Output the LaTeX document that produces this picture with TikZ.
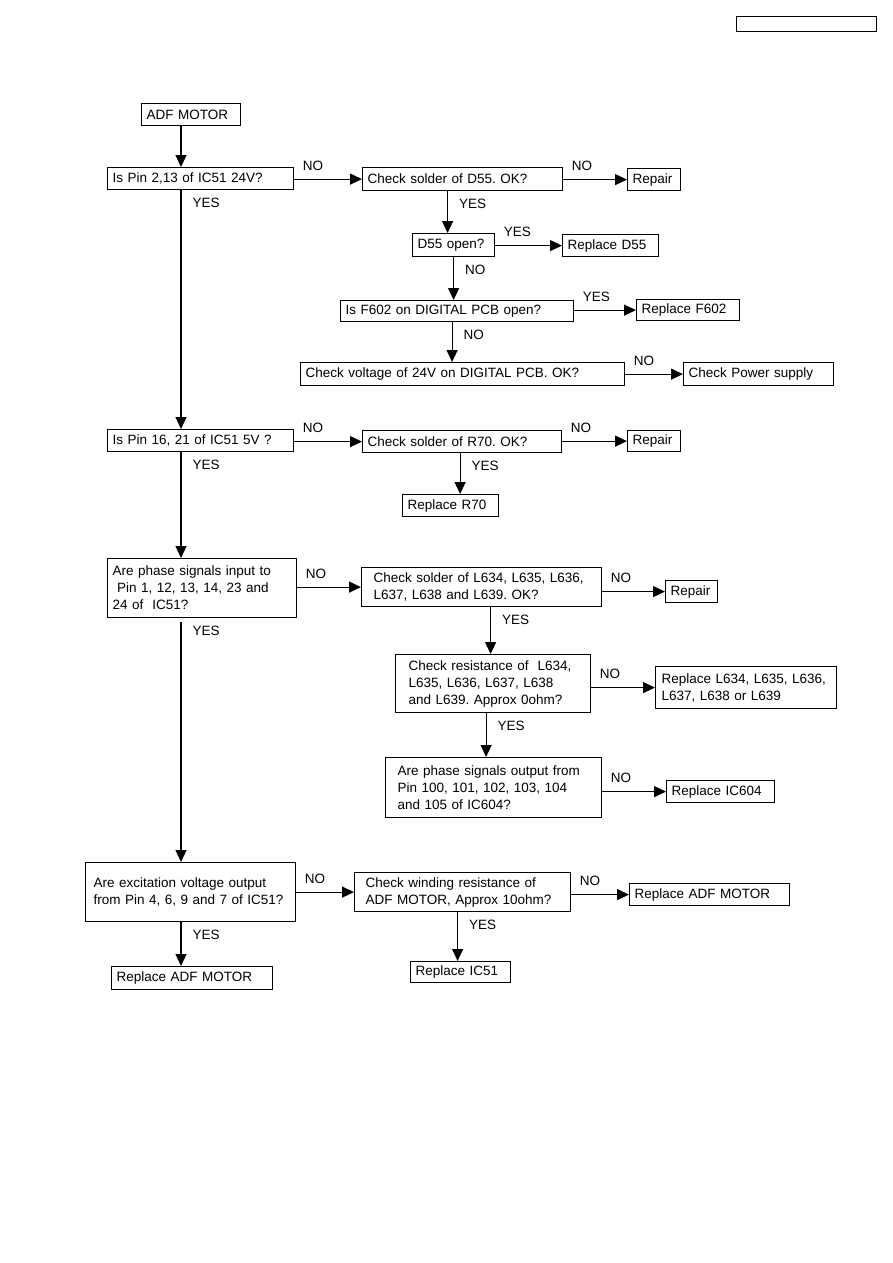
\documentclass[tikz,border=0pt]{standalone}
\usepackage{fontspec}
\setmainfont{Liberation Sans}
\usetikzlibrary{arrows.meta}
\newcommand{\flowfont}{\fontsize{13.5}{17}\selectfont\frenchspacing}
\tikzset{
    box/.style={
        draw,
        line width=1.2pt,
        anchor=north west,
        align=left,
        inner xsep=5pt,
        inner ysep=2pt,
        font=\flowfont
    },
    arrow/.style={
        -{Triangle[length=12pt,width=11pt]},
        line width=1.2pt
    },
    hlbl/.style={font=\flowfont, inner sep=1pt, anchor=south west, pos=0, xshift=7pt, yshift=7pt},
    vlbl/.style={font=\flowfont, inner sep=1pt, anchor=north west, pos=0, xshift=10pt, yshift=-6pt}
}
\begin{document}
\begin{tikzpicture}[x=1pt, y=-1pt]
\useasboundingbox (0,0) rectangle (893,1263);

\node[box, text width=130, minimum height=15] (hdr) at (736,16) {};

\coordinate (spine) at (181,0);

\node[box, text width=89, minimum height=22] (adf) at (141,103) {ADF MOTOR};
\node[box, text width=176, minimum height=22] (q1) at (107,167) {Is Pin 2,13 of IC51 24V?};
\node[box, text width=190, minimum height=23] (c1) at (362,167) {Check solder of D55. OK?};
\node[box, text width=43, minimum height=22] (rep1) at (627,168) {Repair};
\node[box, text width=72, minimum height=23] (d55) at (412,233) {D55 open?};
\node[box, text width=86, minimum height=22] (rd55) at (562,234) {Replace D55};
\node[box, text width=223, minimum height=21] (f602) at (340,300) {Is F602 on DIGITAL PCB open?};
\node[box, text width=93, minimum height=21] (rf602) at (636,299) {Replace F602};
\node[box, text width=314, minimum height=23] (cv) at (300,362) {Check voltage of 24V on DIGITAL PCB. OK?};
\node[box, text width=140, minimum height=23] (cps) at (683,362) {Check Power supply};

\node[box, text width=176, minimum height=22] (q2) at (107,429) {Is Pin 16, 21 of IC51 5V ?};
\node[box, text width=189, minimum height=22] (c2) at (362,430) {Check solder of R70. OK?};
\node[box, text width=43, minimum height=21] (rep2) at (627,430) {Repair};
\node[box, text width=86, minimum height=22] (r70) at (402,494) {Replace R70};

\node[box, text width=179, minimum height=59] (q3) at (107,558) {Are phase signals input to\\\ Pin 1, 12, 13, 14, 23 and\\24 of~ IC51?};
\node[box, inner xsep=12pt, text width=216, minimum height=39] (c3) at (361,567) {Check solder of L634, L635, L636,\\L637, L638 and L639. OK?};
\node[box, text width=42, minimum height=22] (rep3) at (665,580) {Repair};
\node[box, inner xsep=13pt, text width=169, minimum height=58] (c4) at (395,654) {Check resistance of~ L634,\\L635, L636, L637, L638\\and L639. Approx 0ohm?};
\node[box, inner xsep=6pt, text width=169, minimum height=42] (rl) at (655,666) {Replace L634, L635, L636,\\L637, L638 or L639};
\node[box, inner xsep=12pt, text width=192, minimum height=60] (c5) at (385,757) {Are phase signals output from\\Pin 100, 101, 102, 103, 104\\and 105 of IC604?};
\node[box, text width=98, minimum height=22] (ic604) at (666,780) {Replace IC604};

\node[box, inner xsep=8pt, text width=194, minimum height=59] (q4) at (85,862) {Are excitation voltage output\\from Pin 4, 6, 9 and 7 of IC51?};
\node[box, inner xsep=11pt, text width=194, minimum height=39] (c6) at (354,872) {Check winding resistance of\\ADF MOTOR, Approx 10ohm?};
\node[box, text width=150, minimum height=22] (radf1) at (629,883) {Replace ADF MOTOR};
\node[box, text width=151, minimum height=23] (radf2) at (111,966) {Replace ADF MOTOR};
\node[box, text width=90, minimum height=21] (ic51) at (410,961) {Replace IC51};

\draw[arrow] (adf.south -| spine) -- (q1.north -| spine);
\draw[arrow] (q1.east |- c1) -- node[hlbl] {NO} (c1);
\draw[arrow] (c1.east |- rep1) -- node[hlbl] {NO} (rep1);
\draw[arrow] ([xshift=-15pt]c1.south) -- node[vlbl] {YES} ([xshift=-15pt]c1.south |- d55.north);
\draw[arrow] (d55.east |- rd55) -- node[hlbl] {YES} (rd55);
\draw[arrow] (d55.south) -- node[vlbl] {NO} (d55.south |- f602.north);
\draw[arrow] (f602.east |- rf602) -- node[hlbl] {YES} (rf602);
\draw[arrow] ([xshift=-5pt]f602.south) -- node[vlbl] {NO} ([xshift=-5pt]f602.south |- cv.north);
\draw[arrow] (cv.east |- cps) -- node[hlbl] {NO} (cps);

\draw[arrow] (q1.south -| spine) -- node[vlbl] {YES} (q2.north -| spine);
\draw[arrow] (q2.east |- c2) -- node[hlbl] {NO} (c2);
\draw[arrow] (c2.east |- rep2) -- node[hlbl] {NO} (rep2);
\draw[arrow] ([xshift=-2pt]c2.south) -- node[vlbl] {YES} ([xshift=-2pt]c2.south |- r70.north);

\draw[arrow] (q2.south -| spine) -- node[vlbl] {YES} (q3.north -| spine);
\draw[arrow] (q3.east |- c3) -- node[hlbl] {NO} (c3);
\draw[arrow] (c3.east |- rep3) -- node[hlbl] {NO} (rep3);
\draw[arrow] ([xshift=9pt]c3.south) -- node[vlbl] {YES} ([xshift=9pt]c3.south |- c4.north);
\draw[arrow] (c4.east |- rl) -- node[hlbl] {NO} (rl);
\draw[arrow] ([xshift=-7pt]c4.south) -- node[vlbl] {YES} ([xshift=-7pt]c4.south |- c5.north);
\draw[arrow] (c5.east |- ic604) -- node[hlbl] {NO} (ic604);

\draw[arrow, shorten <=4pt] (q3.south -| spine) -- node[vlbl] {YES} (q4.north -| spine);
\draw[arrow] (q4.east |- c6) -- node[hlbl] {NO} (c6);
\draw[arrow] (c6.east |- radf1) -- node[hlbl] {NO} (radf1);
\draw[arrow] (q4.south -| spine) -- node[vlbl] {YES} (radf2.north -| spine);
\draw[arrow] ([xshift=-5pt]c6.south) -- node[vlbl] {YES} ([xshift=-5pt]c6.south |- ic51.north);

\end{tikzpicture}
\end{document}
